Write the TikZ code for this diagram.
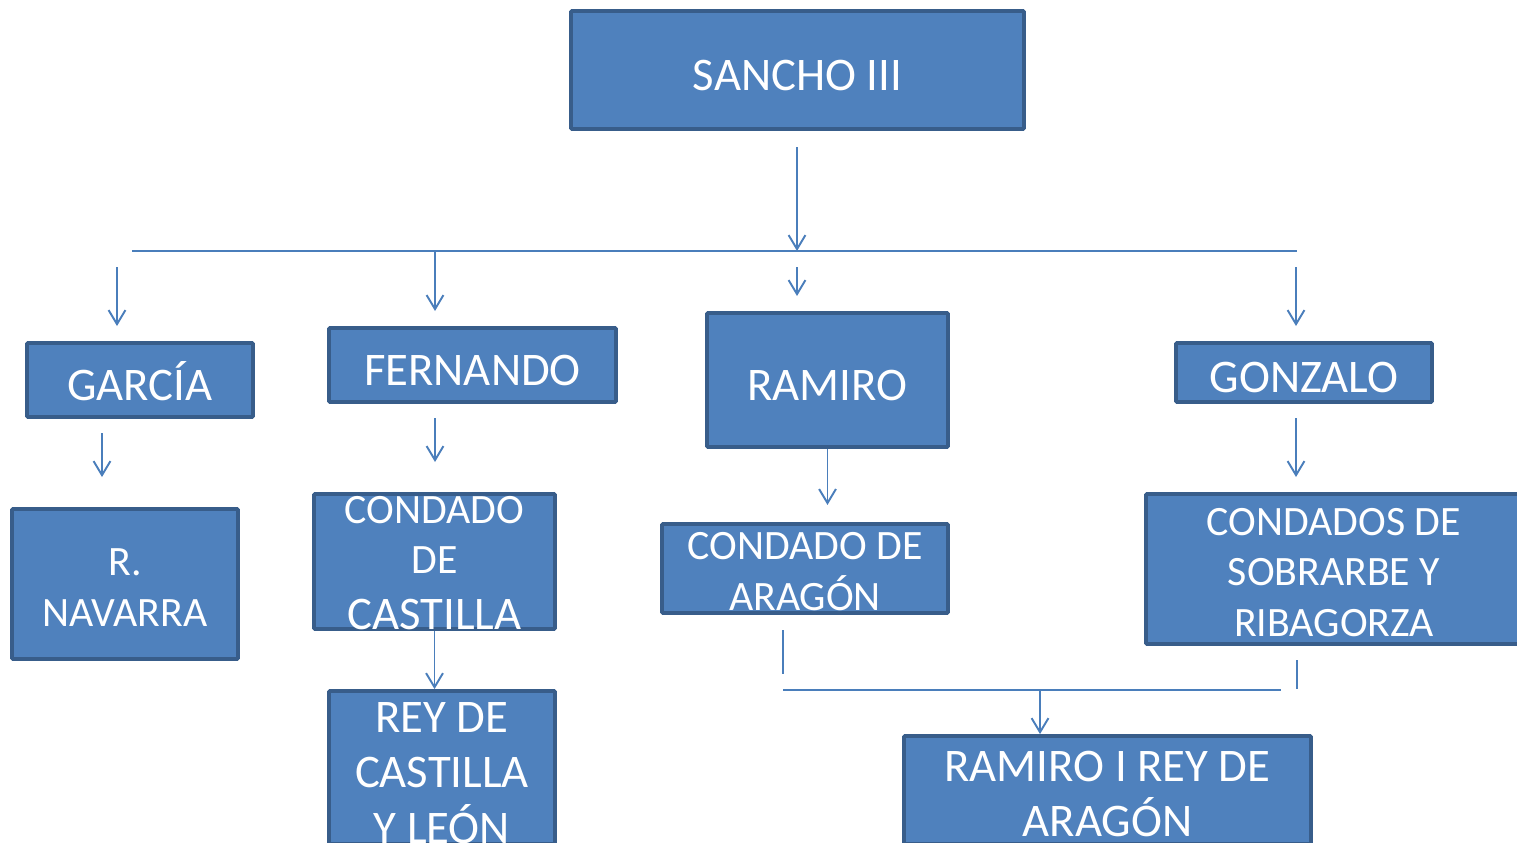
\documentclass[tikz,border=0pt]{standalone}
\usepackage{fontspec}
\setmainfont{Carlito}
\usetikzlibrary{arrows.meta}
\definecolor{boxfill}{HTML}{4F81BD}
\definecolor{boxline}{HTML}{385D8A}
\definecolor{linkline}{HTML}{4A7EBB}
\newcommand{\bigtext}[1]{\raisebox{-11.4pt}[0pt][0pt]{\fontsize{26.6pt}{31.7pt}\selectfont\begin{tabular}{@{}c@{}}#1\end{tabular}}}
\newcommand{\smalltext}[1]{\raisebox{-10pt}[0pt][0pt]{\fontsize{23.8pt}{28.9pt}\selectfont\begin{tabular}{@{}c@{}}#1\end{tabular}}}
\newcommand{\bigline}[1]{{\fontsize{26.6pt}{28.9pt}\selectfont #1}}

\begin{document}
\begin{tikzpicture}[x=0.02cm, y=-0.02cm,
    kingbox/.style 2 args={draw=boxline, fill=boxfill, line width=2.2pt, rounded corners=0.6pt,
      text=white, inner sep=0pt, minimum width=#1*0.02cm, minimum height=#2*0.02cm},
    link/.style={draw=linkline, line width=1.1pt},
    linkarrow/.style={link, -{Straight Barb[length=8pt, width=9.6pt, line width=1.1pt]}}]
			%%%%% START %%%%%
			\useasboundingbox (0,0) rectangle (1517,842);
			\clip (0,0) rectangle (1517,842);
			
			% top
			\node[kingbox={453}{118}] (sancho) at (797.5,70) {\bigtext{SANCHO III}};
			
			% sons
			\node[kingbox={226}{74}] (garcia) at (140,380) {\bigtext{GARCÍA}};
			\node[kingbox={287}{74}] (fernando) at (472.5,365) {\bigtext{FERNANDO}};
			\node[kingbox={241}{134}] (ramiro) at (827.5,380) {\bigtext{RAMIRO}};
			\node[kingbox={256}{59}] (gonzalo) at (1304,372.5) {\bigtext{GONZALO}};
			
			% lands
			\node[kingbox={226}{150}] (navarra) at (125,584) {\smalltext{R.\\NAVARRA}};
			\node[kingbox={241}{135}] (castilla) at (434.5,561.5) {\raisebox{2pt}{\smalltext{CONDADO\\DE\\[3pt]\bigline{CASTILLA}}}};
			\node[kingbox={286}{89}] (aragon) at (805,568.5) {\smalltext{CONDADO DE\\ARAGÓN}};
			\node[kingbox={376}{150}] (sobrarbe) at (1334,569) {\smalltext{CONDADOS DE\\SOBRARBE Y\\RIBAGORZA}};
			
			% kings
			\node[kingbox={226}{153}] (reycastilla) at (442,767.5) {\bigtext{REY DE\\CASTILLA\\Y LEÓN}};
			\node[kingbox={407}{108}] (reyaragon) at (1107.5,790) {\raisebox{1.5pt}{\bigtext{RAMIRO I REY DE\\ARAGÓN}}};
			
			% bus under sancho
			\coordinate (busL) at (132,251);
			\coordinate (busR) at (1297,251);
			\coordinate (busTop) at (797,147);
			\draw[link] (busL) -- (busR);
			\draw[linkarrow] (busTop) -- (busTop |- busL);
			
			\coordinate (g1) at (117,267);
			\coordinate (f1) at (435,251);
			\coordinate (r1) at (797,267);
			\coordinate (z1) at (1296,267);
			\draw[linkarrow] (g1) -- (117,326);
			\draw[linkarrow] (f1) -- (435,311);
			\draw[linkarrow] (r1) -- (797,296);
			\draw[linkarrow] (z1) -- (1296,326);
			
			\coordinate (g2) at (102,433);
			\coordinate (f2) at (435,418);
			\coordinate (z2) at (1296,418);
			\draw[linkarrow] (g2) -- (102,477);
			\draw[linkarrow] (f2) -- (435,462);
			\draw[linkarrow] (ramiro.south) -- ++(0,56);
			\draw[linkarrow] (z2) -- (1296,477);
			
			\draw[linkarrow] (castilla.south) -- (castilla.south |- reycastilla.north);
			
			% bus to ramiro I
			\coordinate (aL) at (783,630);
			\coordinate (aB) at (783,690);
			\coordinate (sB) at (1281,690);
			\coordinate (sT) at (1297,660);
			\coordinate (rI) at (1040,690);
			\draw[link] (aL) -- (783,674);
			\draw[link] (sT) -- (1297,689);
			\draw[link] (aB) -- (sB);
			\draw[linkarrow] (rI) -- (rI |- reyaragon.north);
			
			%%%%% END %%%%%
\end{tikzpicture}
\end{document}
